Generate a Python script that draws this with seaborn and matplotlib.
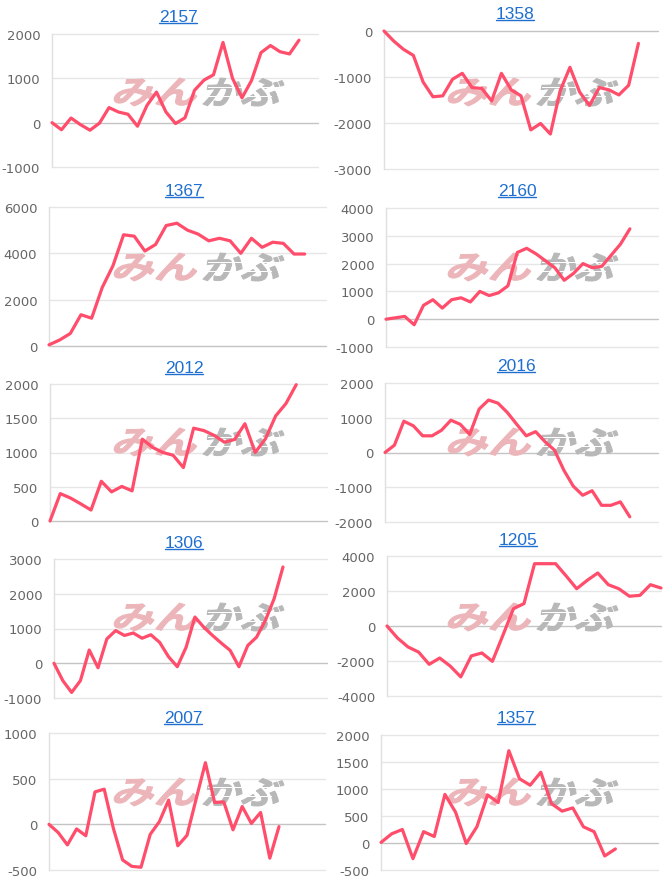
import matplotlib
matplotlib.use("Agg")
import matplotlib.pyplot as plt
import seaborn as sns
import pandas as pd
from matplotlib.textpath import TextPath
from matplotlib.patches import PathPatch, Rectangle
from matplotlib.font_manager import FontProperties
from matplotlib.transforms import Affine2D
from matplotlib.lines import Line2D

# ---------------- data ----------------
codes = ["2157", "1358", "1367", "2160", "2012", "2016", "1306", "1205", "2007", "1357"]

v2157 = [0, -160, 105, -45, -170, -10, 340, 240, 190, -80, 390, 690, 240, -20, 110,
         730, 960, 1080, 1810, 1000, 560, 950, 1580, 1740, 1600, 1550, 1860]
v1358 = [0, -220, -400, -530, -1110, -1430, -1410, -1050, -920, -1230, -1250, -1520,
         -920, -1280, -1410, -2150, -2010, -2240, -1300, -790, -1330, -1620, -1230,
         -1280, -1390, -1180, -270]
v1367 = [50, 260, 540, 1350, 1200, 2530, 3460, 4800, 4740, 4100, 4380, 5200, 5300,
         5000, 4830, 4540, 4650, 4540, 4000, 4650, 4260, 4480, 4430, 3970, 3970]
v2160 = [0, 50, 100, -200, 500, 700, 400, 700, 770, 620, 1000, 850, 950, 1200, 2400,
         2550, 2350, 2100, 1850, 1400, 1650, 2000, 1850, 1900, 2300, 2700, 3250]
v2012 = [0, 400, 335, 250, 160, 580, 425, 505, 440, 1195, 1075, 1000, 960, 780, 1355,
         1320, 1250, 1150, 1190, 1420, 1000, 1200, 1535, 1715, 1990]
v2016 = [0, 210, 900, 770, 480, 480, 640, 930, 810, 520, 1250, 1510, 1420, 1150, 810,
         480, 600, 310, 70, -510, -970, -1230, -1100, -1520, -1520, -1420, -1850]
v1306 = [0, -500, -840, -500, 380, -130, 700, 940, 800, 870, 720, 820, 600, 190, -100,
         460, 1330, 1040, 800, 580, 370, -100, 510, 750, 1230, 1860, 2770]
v1205 = [0, -690, -1200, -1490, -2190, -1830, -2290, -2910, -1710, -1540, -2020, -530,
         990, 1280, 3560, 3560, 3560, 2860, 2130, 2610, 3030, 2360, 2130, 1700, 1750,
         2360, 2170]
v2007 = [0, -90, -225, -50, -125, 355, 385, -45, -390, -460, -470, -110, 30, 265, -235,
         -120, 280, 675, 240, 245, -60, 195, 10, 130, -370, -25]
v1357 = [10, 170, 250, -290, 210, 120, 900, 570, -10, 300, 890, 750, 1710, 1190, 1070,
         1310, 730, 590, 650, 300, 210, -240, -110]

series = [v2157, v1358, v1367, v2160, v2012, v2016, v1306, v1205, v2007, v1357]
x_slots = [29, 29, 27, 30, 28, 30, 32, 27, 31, 27]   # number of x labels per chart

# y-axis ranges / tick steps
y_ranges = [(-1000, 2000, 1000), (-3000, 0, 1000), (0, 6000, 2000), (-1000, 4000, 1000),
            (0, 2000, 500), (-2000, 2000, 1000), (-1000, 3000, 1000), (-4000, 4000, 2000),
            (-500, 1000, 500), (-500, 2000, 500)]

# ---------------- layout (pixels) ----------------
W, H = 666, 879
boxes = [  # left, right, top, bottom
    (52, 318, 35, 168), (384, 658, 32, 170),
    (49, 326, 208, 347), (386, 658, 209, 348),
    (50, 327, 385, 522), (385, 658, 384, 523),
    (54, 327, 560, 699), (387, 661, 557, 697),
    (49, 325, 734, 871), (381, 658, 736, 871),
]
title_pos = [(178, 22), (515, 19), (184, 196), (517, 196), (184, 372.7),
             (516, 370.7), (184, 547.7), (518, 545), (183, 722.7), (516, 722.7)]

LINE = "#ff4d6b"
GRID = "#e6e6e6"
ZERO = "#c4c4c4"
TICK = "#666666"
TITLE = "#1f6fd0"

sns.set_style("white")
plt.rcParams["font.family"] = ["DejaVu Sans"]

fig = plt.figure(figsize=(W / 100, H / 100), dpi=100)
fig.patch.set_facecolor("white")

fp_logo = FontProperties(family="Noto Sans CJK JP", weight="bold")


def logo_patch(text, x0, y0, w, h, color):
    tp = TextPath((0, 0), text, size=1, prop=fp_logo)
    bb = tp.get_extents()
    tr = (Affine2D().translate(-bb.x0, -bb.y0)
          .scale(w / bb.width, h / bb.height)
          .skew_deg(16, 0)
          .translate(x0, H - y0 - h)
          .scale(1 / W, 1 / H))
    path = tr.transform_path(tp)
    return PathPatch(path, facecolor=color, edgecolor=color, lw=0.7,
                     joinstyle="miter", transform=fig.transFigure, zorder=0.5)


titles = []
for i, (code, vals) in enumerate(zip(codes, series)):
    l, r, t, b = boxes[i]
    ax = fig.add_axes([l / W, 1 - b / H, (r - l) / W, (b - t) / H])
    ax.set_facecolor("white")
    df = pd.DataFrame({"x": range(len(vals)), "y": vals})
    lo, hi, step = y_ranges[i]
    ticks = list(range(lo, hi + 1, step))
    for tv in ticks:
        ax.axhline(tv, color=ZERO if tv == 0 else GRID, lw=1.0, zorder=0.2, clip_on=False)

    # watermark logo
    col_left = 112 if i % 2 == 0 else 446
    row_top = 175 * (i // 2) + 79
    p1 = logo_patch("みん", col_left, row_top, 82, 28, "#ecb5b9")
    p2 = logo_patch("かぶ", col_left + 90, row_top, 76, 28, "#b8b8b8")
    for p in (p1, p2):
        p.set_clip_on(False)
        ax.add_patch(p)
    # speed-line stripes through the grey part
    for k, dy in enumerate([9, 18]):
        stripe = Rectangle(((col_left + 96) / W, 1 - (row_top + dy + 1) / H),
                           (72 - 8 * k) / W, 1.0 / H, transform=fig.transFigure,
                           facecolor="white", edgecolor="none", zorder=0.6,
                           clip_on=False)
        ax.add_patch(stripe)

    sns.lineplot(data=df, x="x", y="y", ax=ax, color=LINE, linewidth=2.3,
                 zorder=3, clip_on=False)
    ax.set_xlim(0, x_slots[i] - 1)
    ax.set_ylim(lo, hi)
    ax.set_yticks(ticks)
    ax.set_yticklabels([str(tv) for tv in ticks])
    ax.set_xticks([])
    ax.set_xlabel("")
    ax.set_ylabel("")
    ax.tick_params(axis="y", length=6, width=1, color=GRID, pad=2.5,
                   labelsize=9.5, labelcolor=TICK)
    for s in ["top", "right", "bottom"]:
        ax.spines[s].set_visible(False)
    ax.spines["left"].set_color("#e0e0e0")
    ax.spines["left"].set_linewidth(1.0)
    ax.grid(False)

    tx, ty = title_pos[i]
    txt = fig.text(tx / W, 1 - ty / H, code, ha="center", va="baseline",
                   fontsize=12.5, color=TITLE, family="Liberation Sans")
    titles.append((txt, ty))

fig.canvas.draw()
renderer = fig.canvas.get_renderer()
for txt, ty in titles:
    bb = txt.get_window_extent(renderer)
    yline = 1 - (ty + 2) / H
    fig.add_artist(Line2D([bb.x0 / W, bb.x1 / W], [yline, yline],
                          transform=fig.transFigure, color=TITLE, lw=1.0))

fig.savefig("out.png", dpi=100, facecolor="white")
